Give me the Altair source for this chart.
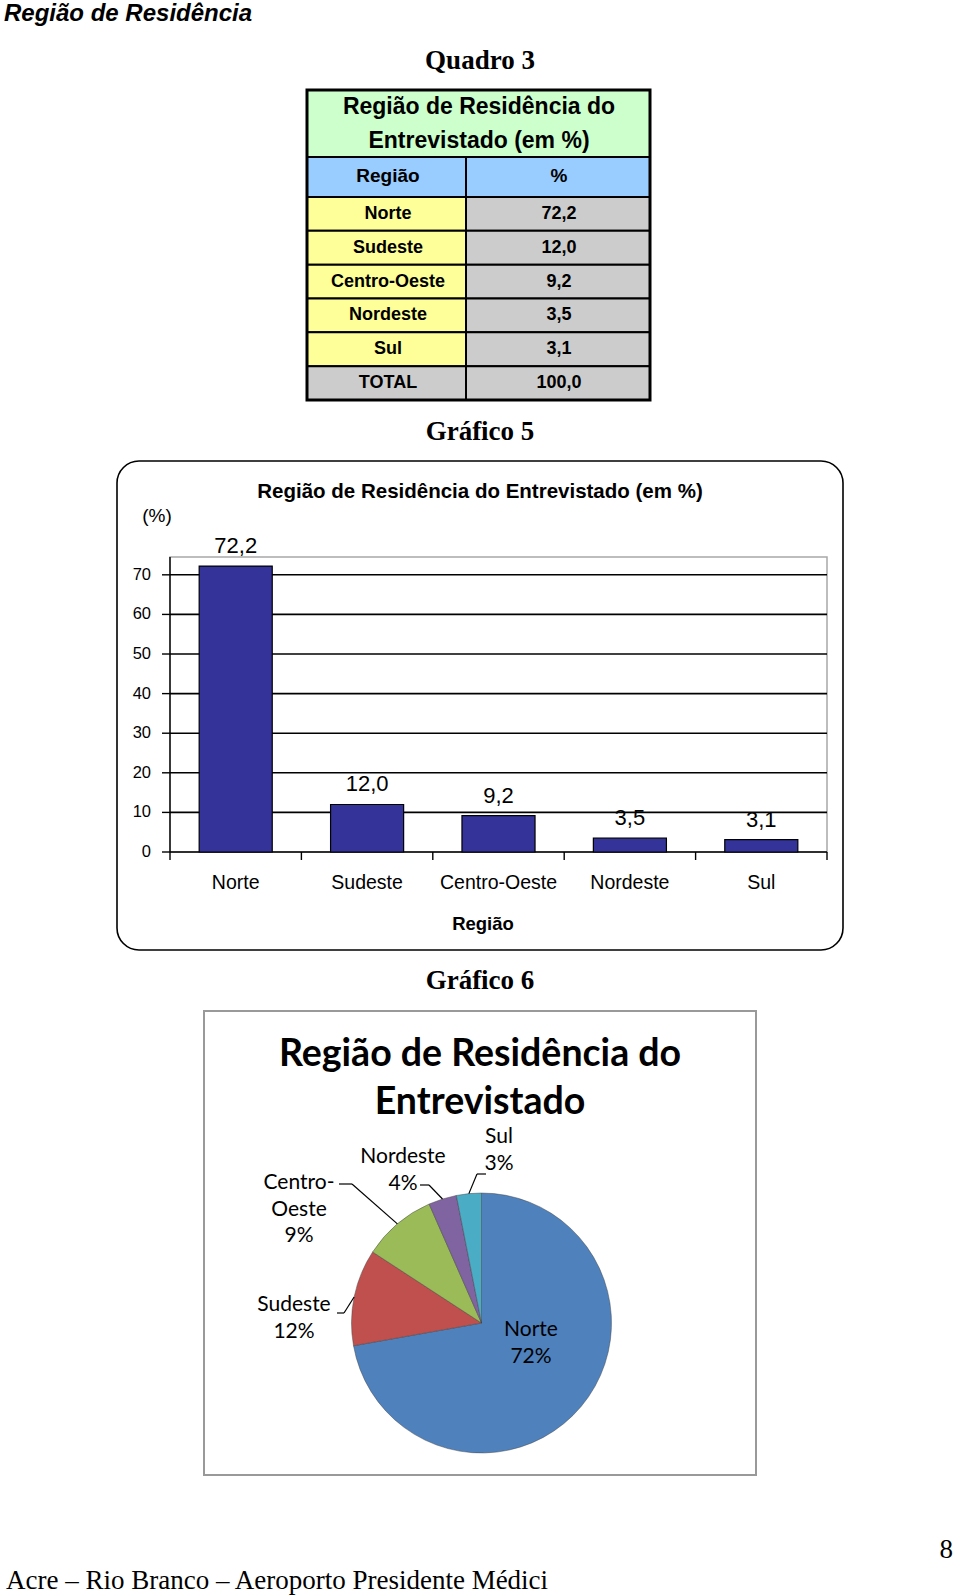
import math
import altair as alt
import pandas as pd

# ---------------- data ----------------
regions = ["Norte", "Sudeste", "Centro-Oeste", "Nordeste", "Sul"]
percent = [72.2, 12.0, 9.2, 3.5, 3.1]
total_percent = 100.0
y_ticks = [0, 10, 20, 30, 40, 50, 60, 70]
y_axis_max = 74.5

# ---------------- styles ----------------
pie_colors = ["#4F81BD", "#C0504D", "#9BBB59", "#8064A2", "#4BACC6"]
SANS = "Liberation Sans, Arial, sans-serif"
NARROW = "Liberation Sans Narrow, Arial Narrow, Liberation Sans, sans-serif"
SERIF = "Liberation Serif, Times New Roman, serif"
CAL = "Lato, Carlito, Calibri, sans-serif"


def br(v):
    return f"{v:.1f}".replace(".", ",")


one = alt.Data(values=[{"k": 0}])


def txt(t, x, y, size, font=SANS, weight="normal", style="normal", align="center", color="black"):
    return alt.Chart(one).mark_text(
        text=t, fontSize=size, font=font, fontWeight=weight, fontStyle=style,
        align=align, baseline="middle", color=color
    ).encode(x=alt.value(x), y=alt.value(y))


def box(x1, y1, x2, y2, fill="transparent", stroke="black", sw=1.0, radius=0):
    return alt.Chart(one).mark_rect(
        fill=fill, stroke=stroke, strokeWidth=sw, cornerRadius=radius
    ).encode(x=alt.value(x1), x2=alt.value(x2), y=alt.value(y1), y2=alt.value(y2))


layers = []

# ---------------- page texts ----------------
layers.append(txt("Região de Residência", 4, 14, 24, weight="bold", style="italic", align="left"))
layers.append(txt("Quadro 3", 480, 61, 27, font=SERIF, weight="bold"))
layers.append(txt("Gráfico 5", 480, 432, 27, font=SERIF, weight="bold"))
layers.append(txt("Gráfico 6", 480, 981, 27, font=SERIF, weight="bold"))
layers.append(txt("Acre – Rio Branco – Aeroporto Presidente Médici", 6, 1581, 27, font=SERIF, align="left"))
layers.append(txt("8", 953, 1550, 27, font=SERIF, align="right"))

# ---------------- table (Quadro 3) ----------------
TL, TM, TR = 307, 466, 650
layers.append(box(TL, 90, TR, 157, fill="#CCFFCC", sw=2))
layers.append(box(TL, 157, TM, 197, fill="#99CCFF", sw=2))
layers.append(box(TM, 157, TR, 197, fill="#99CCFF", sw=2))
layers.append(txt("Região de Residência do", 479, 107, 23, font=NARROW, weight="bold"))
layers.append(txt("Entrevistado (em %)", 479, 141, 23, font=NARROW, weight="bold"))
layers.append(txt("Região", 388, 176, 19, font=NARROW, weight="bold"))
layers.append(txt("%", 559, 176, 19, font=NARROW, weight="bold"))

table_df = pd.DataFrame({
    "regiao": regions + ["TOTAL"],
    "pct": [br(v) for v in percent] + [br(total_percent)],
})
row_scale = alt.Scale(domain=regions + ["TOTAL"], range=[197, 400], paddingInner=0, paddingOuter=0)

left_cells = alt.Chart(table_df).mark_rect(stroke="black", strokeWidth=2).encode(
    y=alt.Y("regiao:N", scale=row_scale, axis=None),
    x=alt.value(TL), x2=alt.value(TM),
    fill=alt.condition(alt.datum.regiao == "TOTAL", alt.value("#CCCCCC"), alt.value("#FFFF99")),
)
right_cells = alt.Chart(table_df).mark_rect(stroke="black", strokeWidth=2, fill="#CCCCCC").encode(
    y=alt.Y("regiao:N", scale=row_scale, axis=None),
    x=alt.value(TM), x2=alt.value(TR),
)
left_text = alt.Chart(table_df).mark_text(font=NARROW, fontWeight="bold", fontSize=18, baseline="middle").encode(
    y=alt.Y("regiao:N", scale=row_scale, axis=None, bandPosition=0.5),
    x=alt.value(388), text="regiao:N",
)
right_text = alt.Chart(table_df).mark_text(font=NARROW, fontWeight="bold", fontSize=18, baseline="middle").encode(
    y=alt.Y("regiao:N", scale=row_scale, axis=None, bandPosition=0.5),
    x=alt.value(559), text="pct:N",
)
layers += [left_cells, right_cells, left_text, right_text]
layers.append(box(TL, 90, TR, 400, sw=3))

# ---------------- bar chart (Gráfico 5) ----------------
PX1, PX2, PY1, PY2 = 170, 827, 557, 852
layers.append(box(117, 461, 843, 950, fill="white", sw=1.6, radius=22))
layers.append(txt("Região de Residência do  Entrevistado  (em %)", 480, 492, 20.5, weight="bold"))
layers.append(txt("(%)", 157, 516, 19))
layers.append(box(PX1, PY1, PX2, PY2, stroke="#A8A8A8", sw=1.5))

bar_df = pd.DataFrame({"regiao": regions, "pct": percent, "lab": [br(v) for v in percent]})
grid_df = pd.DataFrame({"t": y_ticks})
bnd_df = pd.DataFrame({"b": list(range(len(regions) + 1))})

xb = alt.Scale(domain=regions, range=[PX1, PX2], paddingInner=0.444, paddingOuter=0.222)
yb = alt.Scale(domain=[0, y_axis_max], range=[PY2, PY1], nice=False, zero=True)
xbnd = alt.Scale(domain=[0, len(regions)], range=[PX1, PX2], nice=False, zero=False)

grid = alt.Chart(grid_df).mark_rule(color="black", strokeWidth=1.6).encode(
    y=alt.Y("t:Q", scale=yb, axis=None), x=alt.value(PX1), x2=alt.value(PX2))
yticks = alt.Chart(grid_df).mark_rule(color="black", strokeWidth=1.4).encode(
    y=alt.Y("t:Q", scale=yb, axis=None), x=alt.value(162), x2=alt.value(PX1))
ylabels = alt.Chart(grid_df).mark_text(align="right", baseline="middle", fontSize=16.5, font=SANS).encode(
    y=alt.Y("t:Q", scale=yb, axis=None), x=alt.value(151), text="t:Q")
yaxis = alt.Chart(one).mark_rule(color="black", strokeWidth=1.4).encode(
    x=alt.value(PX1), y=alt.value(PY1), y2=alt.value(PY2))
xticks = alt.Chart(bnd_df).mark_rule(color="black", strokeWidth=1.4).encode(
    x=alt.X("b:Q", scale=xbnd, axis=None), y=alt.value(PY2), y2=alt.value(860))
bars = alt.Chart(bar_df).mark_bar(color="#333399", stroke="black", strokeWidth=1.2).encode(
    x=alt.X("regiao:N", scale=xb, axis=None), y=alt.Y("pct:Q", scale=yb, axis=None))
vlabels = alt.Chart(bar_df).mark_text(dy=-20, fontSize=22, font=SANS, baseline="middle").encode(
    x=alt.X("regiao:N", scale=xb, axis=None, bandPosition=0.5),
    y=alt.Y("pct:Q", scale=yb, axis=None), text="lab:N")
xlabels = alt.Chart(bar_df).mark_text(fontSize=19.5, font=SANS, baseline="middle").encode(
    x=alt.X("regiao:N", scale=xb, axis=None, bandPosition=0.5),
    y=alt.value(883), text="regiao:N")
layers += [grid, yticks, ylabels, yaxis, xticks, bars, vlabels, xlabels]
layers.append(txt("Região", 483, 924, 18.5, weight="bold"))

# ---------------- pie chart (Gráfico 6) ----------------
CX, CY, R = 481.5, 1323, 130
layers.append(box(204, 1011, 756, 1475, fill="white", stroke="#999999", sw=2))
layers.append(txt("Região de Residência do", 480, 1055, 37.5, font=CAL, weight="bold"))
layers.append(txt("Entrevistado", 480, 1103, 37.5, font=CAL, weight="bold"))

pie_df = pd.DataFrame({"regiao": regions, "pct": percent, "ordem": list(range(len(regions)))})
pie = alt.Chart(pie_df).mark_arc(radius=R, stroke="#404040", strokeOpacity=0.45, strokeWidth=1).encode(
    theta=alt.Theta("pct:Q", stack=True),
    color=alt.Color("regiao:N", scale=alt.Scale(domain=regions, range=pie_colors), legend=None),
    order=alt.Order("ordem:Q"),
    x=alt.value(CX), y=alt.value(CY),
)

# label layout (first-line anchor) and leader elbows
label_anchor = {
    "Norte": (531, 1330),
    "Sudeste": (294, 1305),
    "Centro-Oeste": (299, 1183),
    "Nordeste": (403, 1157),
    "Sul": (499, 1137),
}
leader_start = {
    "Sudeste": [(337, 1313), (344, 1313)],
    "Centro-Oeste": [(339, 1184), (352, 1184)],
    "Nordeste": [(420, 1185), (429, 1185)],
    "Sul": [(486, 1174), (477, 1174)],
}
LH = 26.5
total = sum(percent)
lab_rows, seg_rows = [], []
cum = 0.0
for reg, v in zip(regions, percent):
    mid = (cum + v / 2) / total * 2 * math.pi
    cum += v
    lines = ["Centro-", "Oeste"] if reg == "Centro-Oeste" else [reg]
    lines.append(f"{int(v + 0.5)}%")
    ax, ay = label_anchor[reg]
    for i, ln in enumerate(lines):
        lab_rows.append({"x": ax, "y": ay + i * LH, "t": ln})
    if reg in leader_start:
        (sx, sy), (ex, ey) = leader_start[reg]
        px, py = CX + R * math.sin(mid), CY - R * math.cos(mid)
        seg_rows.append({"x": sx, "y": sy, "x2": ex, "y2": ey})
        seg_rows.append({"x": ex, "y": ey, "x2": px, "y2": py})

lab_df = pd.DataFrame(lab_rows)
seg_df = pd.DataFrame(seg_rows)
pie_labels = alt.Chart(lab_df).mark_text(fontSize=21, font=CAL, baseline="middle", color="black").encode(
    x=alt.X("x:Q", scale=None), y=alt.Y("y:Q", scale=None), text="t:N")
leaders = alt.Chart(seg_df).mark_rule(color="black", strokeWidth=1.2).encode(
    x=alt.X("x:Q", scale=None), y=alt.Y("y:Q", scale=None),
    x2="x2:Q", y2="y2:Q")
layers += [pie, leaders, pie_labels]

chart = alt.layer(*layers).resolve_scale(
    x="independent", y="independent", color="independent", theta="independent"
).properties(
    width=960, height=1596, padding=0, autosize="none", background="white"
).configure_view(strokeWidth=0)

chart.save("out.html", embed_options={"renderer": "svg", "actions": False})
